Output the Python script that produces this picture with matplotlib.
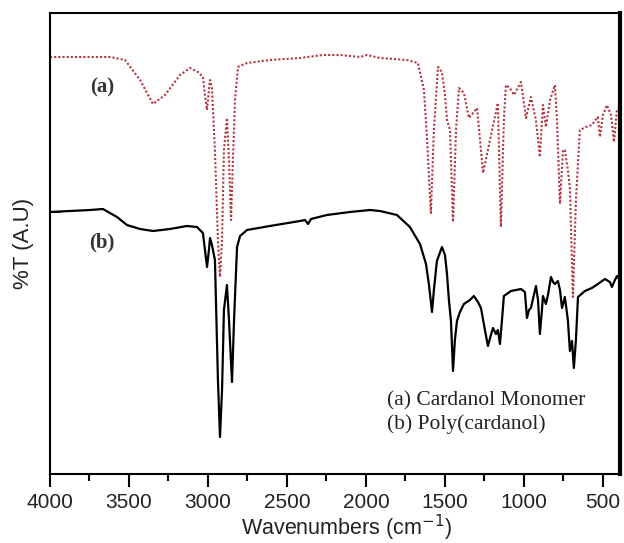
import matplotlib
matplotlib.use("Agg")
import matplotlib.pyplot as plt
from matplotlib.ticker import MultipleLocator, FixedLocator

# ---- data ----
wn_a = [4000, 3620, 3525, 3430, 3348, 3272, 3177, 3114, 3063, 3032, 3019, 3006, 2994, 2987,
        2975, 2956, 2937, 2924, 2911, 2899, 2880, 2867, 2854, 2842, 2829, 2810, 2753, 2608,
        2418, 2272, 2165, 2038, 1994, 1911, 1741, 1671, 1633, 1614, 1589, 1570, 1544, 1519,
        1500, 1487, 1468, 1449, 1430, 1411, 1380, 1348, 1297, 1278, 1259, 1215, 1165, 1146,
        1127, 1114, 1089, 1063, 1019, 987, 956, 924, 899, 880, 861, 835, 804, 791, 772, 753,
        741, 722, 709, 690, 671, 646, 608, 570, 532, 519, 500, 475, 449, 430, 411, 392]
t_a = [417, 417, 414, 394, 370, 379, 399, 406, 402, 397, 379, 364, 384, 394,
       386, 324, 234, 197, 234, 324, 356, 314, 254, 314, 374, 407, 411, 414,
       416, 419, 419, 417, 419, 416, 414, 411, 384, 337, 261, 344, 407, 402,
       379, 354, 344, 252, 344, 386, 381, 356, 366, 334, 301, 334, 371, 247,
       354, 389, 386, 379, 392, 356, 377, 354, 317, 369, 347, 374, 389, 354,
       270, 324, 324, 304, 286, 177, 274, 344, 347, 349, 357, 337, 359, 369,
       359, 332, 365, 366]

wn_b = [4000, 3747, 3665, 3576, 3513, 3430, 3348, 3241, 3133, 3070, 3032, 3019, 3006, 2994,
        2987, 2975, 2956, 2937, 2924, 2911, 2899, 2880, 2867, 2848, 2835, 2816, 2797, 2753,
        2608, 2418, 2386, 2367, 2348, 2247, 2101, 1975, 1911, 1804, 1722, 1658, 1620, 1601,
        1582, 1570, 1551, 1519, 1500, 1487, 1475, 1462, 1449, 1437, 1424, 1405, 1380, 1342,
        1317, 1291, 1272, 1247, 1228, 1209, 1196, 1177, 1165, 1152, 1139, 1127, 1082, 1019,
        994, 981, 968, 956, 937, 924, 911, 899, 886, 880, 861, 848, 829, 816, 804, 785, 772,
        759, 741, 722, 709, 696, 684, 671, 658, 614, 570, 532, 487, 456, 443, 424, 411, 392]
t_b = [262, 264, 265, 257, 249, 245, 243, 245, 248, 247, 241, 224, 207, 224,
       236, 229, 214, 94, 37, 84, 164, 189, 154, 92, 154, 227, 238, 244,
       248, 253, 254, 250, 255, 259, 262, 264, 263, 259, 247, 230, 210, 189,
       162, 184, 213, 227, 219, 200, 174, 153, 103, 134, 153, 162, 170, 174,
       178, 172, 166, 144, 128, 139, 146, 140, 144, 130, 154, 178, 183, 185,
       182, 156, 164, 166, 179, 188, 174, 140, 164, 178, 170, 179, 197, 192,
       190, 193, 184, 166, 177, 154, 123, 133, 106, 134, 177, 183, 186, 190,
       195, 192, 187, 194, 198, 194]

xticks = [4000, 3500, 3000, 2500, 2000, 1500, 1000, 500]
labels_curve = ["(a)", "(b)"]
legend_lines = ["(a) Cardanol Monomer", "(b) Poly(cardanol)"]

# ---- figure ----
fig = plt.figure(figsize=(6.24, 5.43), dpi=100)
ax = fig.add_axes([50/624, 69/543, 570/624, 461/543])

ax.plot(wn_a, t_a, linestyle=(0, (1, 1)), color="#b3343f", linewidth=1.5)
ax.plot(wn_b, t_b, linestyle="-", color="black", linewidth=1.6)

ax.set_xlim(4000, 392)
ax.set_ylim(0, 461)

ax.xaxis.set_major_locator(FixedLocator(xticks))
ax.xaxis.set_minor_locator(MultipleLocator(250))
ax.set_xticklabels([str(v) for v in xticks], fontfamily="Liberation Sans", fontsize=15,
                   color="#222222")
ax.tick_params(axis="x", which="major", direction="out", length=9, width=1.5, pad=5)
ax.tick_params(axis="x", which="minor", direction="out", length=5, width=1.5)
ax.yaxis.set_major_locator(FixedLocator([262]))
ax.set_yticklabels([])
ax.tick_params(axis="y", which="major", direction="in", length=8, width=1.2)

for side in ["left", "bottom", "top"]:
    ax.spines[side].set_linewidth(1.5)
ax.spines["right"].set_linewidth(3)

ax.set_xlabel("Wavenumbers (cm$^{-1}$)", fontfamily="Liberation Sans", fontsize=15.5,
              color="#222222")
ax.xaxis.set_label_coords(0.52, -0.084)
ax.set_ylabel("%T (A.U)", fontfamily="Liberation Sans", fontsize=16, labelpad=8,
              color="#222222")

ax.text(3671, 387, labels_curve[0], fontfamily="Liberation Serif", fontsize=15,
        fontweight="bold", ha="center", va="center", color="#333333")
ax.text(3671, 232, labels_curve[1], fontfamily="Liberation Serif", fontsize=15,
        fontweight="bold", ha="center", va="center", color="#333333")
ax.text(1867, 73, legend_lines[0], fontfamily="Liberation Serif", fontsize=15.5,
        ha="left", va="center", color="#222222")
ax.text(1867, 50, legend_lines[1], fontfamily="Liberation Serif", fontsize=15.5,
        ha="left", va="center", color="#222222")

fig.savefig("out.png", dpi=100)
